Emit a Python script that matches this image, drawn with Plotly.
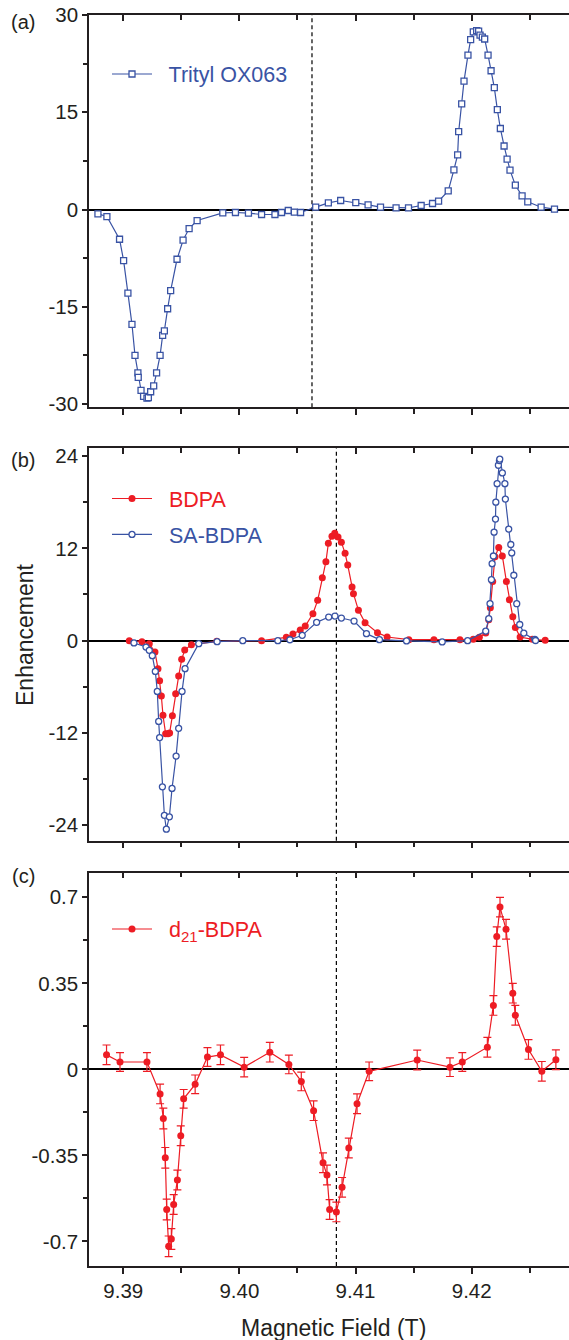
import plotly.graph_objects as go

# ---------------- data ----------------
trityl_field = [9.38782, 9.38859, 9.38968, 9.39003, 9.39040, 9.39075, 9.39101, 9.39126, 9.39129, 9.39153,
                9.39175, 9.39204, 9.39216, 9.39236, 9.39262, 9.39287, 9.39317, 9.39339, 9.39354, 9.39382,
                9.39408, 9.39463, 9.39515, 9.39567, 9.39636, 9.39857, 9.39966, 9.40078, 9.40191, 9.40306,
                9.40363, 9.40421, 9.40473, 9.40527, 9.40657, 9.40766, 9.40872, 9.41002, 9.41108, 9.41215,
                9.41349, 9.41456, 9.41565, 9.41663, 9.41715, 9.41798, 9.41847, 9.41879, 9.41888, 9.41914,
                9.41934, 9.41968, 9.41991, 9.42014, 9.42043, 9.42060, 9.42072, 9.42092, 9.42112, 9.42141,
                9.42167, 9.42195, 9.42221, 9.42247, 9.42279, 9.42305, 9.42330, 9.42376, 9.42434, 9.42483,
                9.42598, 9.42713]
trityl_enh = [-0.67, -1.08, -4.58, -7.87, -12.9, -17.7, -22.5, -25.2, -25.9, -27.9,
              -28.8, -29.1, -29.0, -28.1, -27.2, -25.2, -22.5, -19.4, -18.7, -15.3,
              -12.5, -7.67, -4.73, -2.93, -1.70, -0.51, -0.46, -0.57, -0.77, -0.77,
              -0.46, -0.15, -0.41, -0.46, 0.36, 1.03, 1.39, 1.08, 0.72, 0.36,
              0.26, 0.26, 0.62, 0.93, 1.29, 2.88, 6.12, 8.44, 12.0, 16.3,
              19.8, 23.8, 26.2, 27.4, 27.6, 27.5, 26.9, 26.6, 26.3, 23.8,
              21.4, 18.8, 15.4, 12.5, 9.8, 7.76, 6.07, 3.75, 2.11, 1.19,
              0.36, 0.05]

bdpa_field = [9.39052, 9.39161, 9.39224, 9.39273, 9.39299, 9.39313, 9.39328, 9.39342, 9.39365, 9.39385,
              9.39399, 9.39423, 9.39451, 9.39477, 9.39503, 9.39529, 9.39587, 9.39805, 9.40191, 9.40404,
              9.40461, 9.40524, 9.40567, 9.40633, 9.40674, 9.40714, 9.40745, 9.40766, 9.40797, 9.40821,
              9.40849, 9.40878, 9.40910, 9.40933, 9.40970, 9.40982, 9.41025, 9.41082, 9.41189, 9.41272,
              9.41459, 9.41675, 9.41899, 9.42014, 9.42066, 9.42121, 9.42147, 9.42161, 9.42181, 9.42201,
              9.42233, 9.42264, 9.42299, 9.42325, 9.42354, 9.42376, 9.42417, 9.42523, 9.42633]
bdpa_enh = [0.0, -0.13, -0.39, -1.48, -3.64, -5.2, -7.2, -9.7, -12.1, -12.1,
            -12.0, -9.75, -6.9, -4.6, -2.43, -1.22, -0.52, -0.09, 0.0, 0.43,
            0.86, 1.38, 1.9, 3.5, 5.24, 8.19, 10.27, 12.65, 13.56, 13.95,
            13.47, 12.8, 11.35, 9.83, 6.97, 6.1, 3.94, 2.34, 1.04, 0.47,
            0.13, 0.13, 0.13, 0.17, 0.43, 1.0, 2.73, 4.29, 7.7, 10.9,
            12.1, 11.0, 7.7, 5.3, 3.1, 1.7, 0.47, 0.17, 0.04]

sabdpa_field = [9.39092, 9.39196, 9.39224, 9.39250, 9.39276, 9.39293, 9.39305, 9.39313, 9.39337, 9.39354,
                9.39371, 9.39397, 9.39420, 9.39455, 9.39477, 9.39506, 9.39532, 9.39650, 9.39808, 9.40029,
                9.40331, 9.40435, 9.40541, 9.40665, 9.40769, 9.40823, 9.40878, 9.40987, 9.41094, 9.41206,
                9.41439, 9.41746, 9.41965, 9.42121, 9.42147, 9.42158, 9.42170, 9.42176, 9.42187, 9.42193,
                9.42205, 9.42208, 9.42219, 9.42230, 9.42239, 9.42242, 9.42264, 9.42286, 9.42290, 9.42319,
                9.42337, 9.42345, 9.42363, 9.42388, 9.42414, 9.42449, 9.42544, 9.42550]
sabdpa_enh = [-0.3, -0.83, -1.26, -1.95, -4.0, -6.6, -10.5, -12.6, -19.0, -22.7,
              -24.5, -22.9, -19.2, -15.0, -11.4, -6.6, -3.64, -0.39, -0.13, 0.0,
              0.0, 0.12, 0.69, 2.38, 3.07, 3.2, 2.94, 2.55, 0.91, 0.13,
              -0.04, -0.17, 0.0, 1.25, 2.86, 4.81, 7.93, 10.0, 11.0, 14.1,
              15.8, 18.0, 20.4, 22.8, 23.4, 23.6, 21.8, 20.4, 18.4, 14.5,
              12.5, 11.4, 8.5, 4.8, 2.1, 0.99, 0.17, 0.02]

d21_field = [9.38856, 9.38972, 9.39204, 9.39317, 9.39345, 9.39362, 9.39374, 9.39391, 9.39414, 9.39434,
             9.39466, 9.39495, 9.39520, 9.39619, 9.39725, 9.39837, 9.40041, 9.40262, 9.40426, 9.40533,
             9.40639, 9.40720, 9.40754, 9.40777, 9.40835, 9.40884, 9.40942, 9.41013, 9.41117, 9.41531,
             9.41813, 9.41919, 9.42135, 9.42187, 9.42216, 9.42244, 9.42296, 9.42354, 9.42376, 9.42489,
             9.42604, 9.42725]
d21_enh = [0.059, 0.03, 0.03, -0.10, -0.20, -0.36, -0.57, -0.72, -0.69, -0.55,
           -0.45, -0.27, -0.12, -0.061, 0.05, 0.059, 0.009, 0.07, 0.02, -0.049,
           -0.168, -0.38, -0.43, -0.57, -0.58, -0.48, -0.32, -0.14, -0.008, 0.038,
           0.009, 0.03, 0.09, 0.26, 0.54, 0.66, 0.57, 0.31, 0.22, 0.081,
           -0.008, 0.039]
d21_err = [0.040, 0.038, 0.038, 0.040, 0.042, 0.042, 0.042, 0.042, 0.042, 0.040,
           0.040, 0.040, 0.038, 0.038, 0.038, 0.040, 0.040, 0.040, 0.038, 0.038,
           0.040, 0.040, 0.040, 0.040, 0.040, 0.040, 0.040, 0.040, 0.038, 0.040,
           0.038, 0.038, 0.040, 0.040, 0.040, 0.040, 0.040, 0.040, 0.040, 0.040,
           0.040, 0.040]

center_field_a = 9.40625
center_field_bc = 9.40835

x_range = [9.38705, 9.42838]
ya_range = [-30.5, 30]
yb_range = [-26, 25]
yc_range = [-0.8, 0.8]
ya_ticks = [-30, -15, 0, 15, 30]
ya_text = ["-30", "-15", "0", "15", "30"]
ya_minor = [-22.5, -7.5, 7.5, 22.5]
yb_ticks = [-24, -12, 0, 12, 24]
yb_text = ["-24", "-12", "0", "12", "24"]
yb_minor = [-18, -6, 6, 18]
yc_ticks = [-0.7, -0.35, 0, 0.35, 0.7]
yc_text = ["-0.7", "-0.35", "0", "0.35", "0.7"]
yc_minor = [-0.525, -0.175, 0.175, 0.525]

BLUE = "#3953a4"
RED = "#ed1c24"
INK = "#231f20"
FONT = "Liberation Sans, Arial, Helvetica, sans-serif"

W, H = 569, 1340
ML, MR, MT, MB = 89, 0, 15, 74
PH = H - MT - MB


def ypaper(px):
    return 1 - (px - MT) / PH


dom_a = [ypaper(407.3), 1.0]
dom_b = [ypaper(840.7), ypaper(448.3)]
dom_c = [0.0, ypaper(872.7)]

fig = go.Figure()

fig.add_trace(go.Scatter(
    x=trityl_field, y=trityl_enh, mode="lines+markers", name="  Trityl OX063",
    xaxis="x", yaxis="y", legend="legend",
    line=dict(color=BLUE, width=1.2),
    marker=dict(symbol="square", size=6, color="white", line=dict(color=BLUE, width=1.3)),
))
fig.add_trace(go.Scatter(
    x=bdpa_field, y=bdpa_enh, mode="lines+markers",
    name="  <span style='color:%s'>BDPA</span>" % RED,
    xaxis="x2", yaxis="y2", legend="legend2", legendgroup="g1",
    line=dict(color=RED, width=1.2),
    marker=dict(symbol="circle", size=7, color=RED, line=dict(width=0)),
))
fig.add_trace(go.Scatter(
    x=sabdpa_field, y=sabdpa_enh, mode="lines+markers",
    name="  <span style='color:%s'>SA-BDPA</span>" % BLUE,
    xaxis="x2", yaxis="y2", legend="legend2", legendgroup="g2",
    line=dict(color=BLUE, width=1.2),
    marker=dict(symbol="circle", size=6, color="white", line=dict(color=BLUE, width=1.3)),
))
fig.add_trace(go.Scatter(
    x=d21_field, y=d21_enh, mode="lines+markers", name="  d<sub>21</sub>-BDPA",
    xaxis="x3", yaxis="y3", legend="legend3",
    line=dict(color=RED, width=1.2),
    marker=dict(symbol="circle", size=7, color=RED),
    error_y=dict(type="data", array=d21_err, color=RED, thickness=1.2, width=4),
))

# invisible carriers so the top (mirror) axes with inward ticks get drawn
for xa, ya, xs, ys in [("x4", "y", trityl_field, trityl_enh),
                       ("x5", "y2", bdpa_field, bdpa_enh),
                       ("x6", "y3", d21_field, d21_enh)]:
    fig.add_trace(go.Scatter(x=xs, y=ys, mode="none", xaxis=xa, yaxis=ya,
                             showlegend=False, hoverinfo="skip"))

tickfont = dict(family=FONT, size=20.5, color=INK)


def xaxis_cfg(anchor, labels):
    return dict(
        domain=[0, 1], anchor=anchor, range=x_range, showgrid=False, zeroline=False,
        showline=True, linecolor=INK, linewidth=1.5,
        ticks="outside", ticklen=6, tickwidth=1.5, tickcolor=INK,
        tick0=9.39, dtick=0.01, tickformat=".2f",
        minor=dict(ticks="outside", ticklen=5, tickwidth=1.5, tickcolor=INK, dtick=0.005, tick0=9.39),
        showticklabels=labels, tickfont=tickfont,
    )


def xtop_cfg(anchor, over):
    return dict(
        overlaying=over, anchor=anchor, side="top", range=x_range, showgrid=False, zeroline=False,
        showline=True, linecolor=INK, linewidth=1.5,
        ticks="inside", ticklen=6, tickwidth=1.5, tickcolor=INK,
        tick0=9.39, dtick=0.01, showticklabels=False,
        minor=dict(ticks="inside", ticklen=5, tickwidth=1.5, tickcolor=INK, dtick=0.005, tick0=9.39),
    )


def yaxis_cfg(anchor, dom, rng, tv, tt, mv):
    return dict(
        domain=dom, anchor=anchor, range=rng, showgrid=False,
        zeroline=True, zerolinecolor="black", zerolinewidth=2,
        showline=True, linecolor=INK, linewidth=1.5,
        ticks="outside", ticklen=5, tickwidth=1.5, tickcolor=INK,
        tickmode="array", tickvals=tv, ticktext=tt, tickfont=tickfont,
        minor=dict(ticks="outside", ticklen=4, tickwidth=1.5, tickcolor=INK, tickmode="array", tickvals=mv),
    )


legend_common = dict(bgcolor="rgba(0,0,0,0)", borderwidth=0, xanchor="left", yanchor="middle",
                     itemwidth=40, tracegroupgap=5)
lx = (107 - 89) / 480

fig.update_layout(
    width=W, height=H,
    margin=dict(l=ML, r=MR, t=MT, b=MB),
    paper_bgcolor="white", plot_bgcolor="white",
    font=dict(family=FONT, size=20, color=INK),
    showlegend=True,
    xaxis=xaxis_cfg("y", False),
    xaxis2=xaxis_cfg("y2", False),
    xaxis3=xaxis_cfg("y3", True),
    xaxis4=xtop_cfg("y", "x"),
    xaxis5=xtop_cfg("y2", "x2"),
    xaxis6=xtop_cfg("y3", "x3"),
    yaxis=yaxis_cfg("x", dom_a, ya_range, ya_ticks, ya_text, ya_minor),
    yaxis2=yaxis_cfg("x2", dom_b, yb_range, yb_ticks, yb_text, yb_minor),
    yaxis3=yaxis_cfg("x3", dom_c, yc_range, yc_ticks, yc_text, yc_minor),
    legend=dict(**legend_common, x=lx, y=ypaper(74), font=dict(family=FONT, size=21.5, color=BLUE)),
    legend2=dict(**legend_common, x=lx, y=ypaper(516.5), font=dict(family=FONT, size=21.5, color=RED)),
    legend3=dict(**legend_common, x=lx, y=ypaper(929), font=dict(family=FONT, size=21.5, color=RED)),
)

dash_style = dict(color="black", width=1.2, dash="4px,3px")
fig.add_shape(type="line", xref="x", yref="y domain", x0=center_field_a, x1=center_field_a, y0=0, y1=1,
              line=dash_style, layer="below")
fig.add_shape(type="line", xref="x2", yref="y2 domain", x0=center_field_bc, x1=center_field_bc, y0=0, y1=1,
              line=dash_style, layer="below")
fig.add_shape(type="line", xref="x3", yref="y3 domain", x0=center_field_bc, x1=center_field_bc, y0=0, y1=1,
              line=dash_style, layer="below")

ann_font = dict(family=FONT, size=20, color=INK)
for lab, ypx in [("(a)", 22), ("(b)", 460), ("(c)", 876)]:
    fig.add_annotation(text=lab, xref="paper", yref="paper", x=(23 - ML) / 480, y=ypaper(ypx),
                       xanchor="center", yanchor="middle", showarrow=False, font=ann_font)

fig.add_annotation(text="Enhancement", xref="paper", yref="paper", x=(25 - ML) / 480, y=ypaper(635),
                   xanchor="center", yanchor="middle", textangle=-90, showarrow=False,
                   font=dict(family=FONT, size=23, color=INK))
fig.add_annotation(text="Magnetic Field (T)", xref="paper", yref="paper", x=(333 - ML) / 480, y=ypaper(1328),
                   xanchor="center", yanchor="middle", showarrow=False,
                   font=dict(family=FONT, size=23, color=INK))

fig.write_html("out.html", config={"displayModeBar": False},
               post_script="document.body.style.margin='0px';")
